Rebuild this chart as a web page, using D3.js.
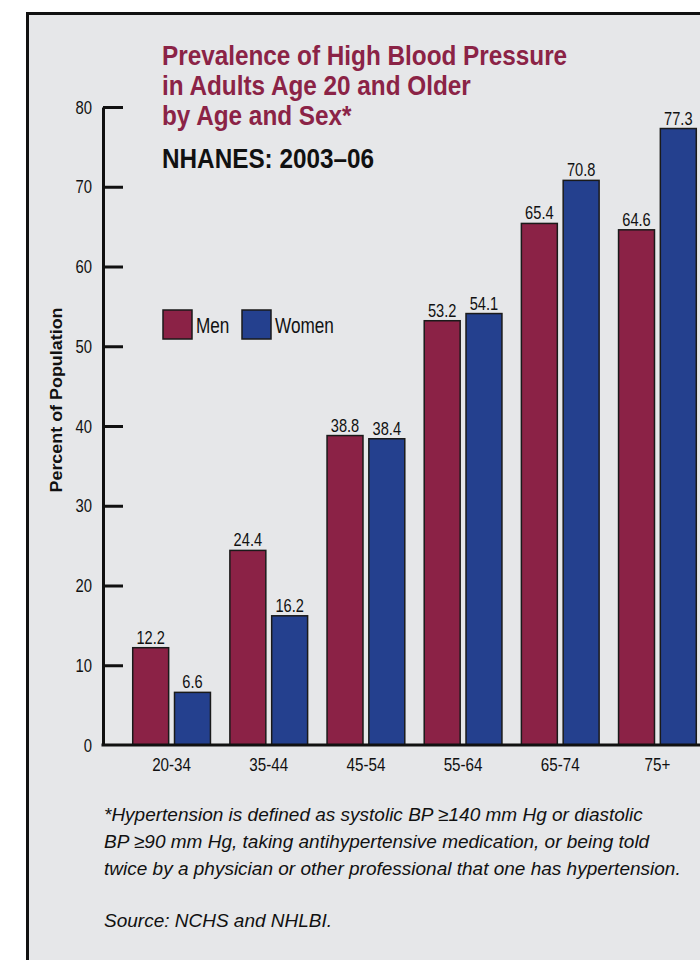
<!DOCTYPE html>
<html>
<head>
<meta charset="utf-8">
<script src="https://cdn.jsdelivr.net/npm/d3@7"></script>
<style>
  body { margin: 0; background: #fff; }
  svg { display: block; }
  text { font-family: "Liberation Sans", Arial, Helvetica, sans-serif; }
</style>
</head>
<body>
<script>
// data
const ageGroups = ["20-34", "35-44", "45-54", "55-64", "65-74", "75+"];
const sexes = ["Men", "Women"];
const men = [12.2, 24.4, 38.8, 53.2, 65.4, 64.6];
const women = [6.6, 16.2, 38.4, 54.1, 70.8, 77.3];
const yTicks = [0, 10, 20, 30, 40, 50, 60, 70, 80];
const titleLines = ["Prevalence of High Blood Pressure", "in Adults Age 20 and Older", "by Age and Sex*"];
const subtitle = "NHANES: 2003\u201306";
const yLabel = "Percent of Population";
const footnote = [
    "*Hypertension is defined as systolic BP \u2265140 mm Hg or diastolic",
    "BP \u226590 mm Hg, taking antihypertensive medication, or being told",
    "twice by a physician or other professional that one has hypertension."
];
const source = "Source: NCHS and NHLBI.";

const rows = ageGroups.map((age, i) => ({ age, Men: men[i], Women: women[i] }));

const width = 700, height = 960;
const axisX = 103, baseY = 745;

// no condensed face installed, so squash the regular one horizontally
function condense(sel, k = 0.8) {
    sel.each(function () {
        const w = this.getComputedTextLength();
        d3.select(this)
            .attr("textLength", w * k)
            .attr("lengthAdjust", "spacingAndGlyphs");
    });
}

const svg = d3.select("body")
    .append("svg")
    .attr("width", width)
    .attr("height", height);

// grey panel with the black frame (runs off the right and bottom)
svg.append("rect")
    .attr("x", 27.5)
    .attr("y", 13.5)
    .attr("width", 720)
    .attr("height", 980)
    .attr("fill", "#e6e7e9")
    .attr("stroke", "#111")
    .attr("stroke-width", 3);

const color = d3.scaleOrdinal()
    .domain(sexes)
    .range(["#8b2246", "#24408e"]);

const x = d3.scaleBand()
    .domain(ageGroups)
    .range([123, 706])
    .paddingInner(0.2)
    .paddingOuter(0.1);
const xSex = d3.scaleBand()
    .domain(sexes)
    .range([0, x.bandwidth()])
    .paddingInner(0.14);
const y = d3.scaleLinear()
    .domain([0, 80])
    .range([baseY, 107]);

// bars
const groups = svg.append("g")
    .selectAll("g")
    .data(rows)
    .join("g")
        .attr("transform", d => `translate(${x(d.age)},0)`);

groups.selectAll("rect")
    .data(d => sexes.map(s => ({ key: s, value: d[s] })))
    .join("rect")
        .attr("x", d => xSex(d.key))
        .attr("y", d => y(d.value))
        .attr("width", xSex.bandwidth())
        .attr("height", d => y(0) - y(d.value))
        .attr("fill", d => color(d.key))
        .attr("stroke", "#1a1a1a")
        .attr("stroke-width", 1.5);

groups.selectAll("text")
    .data(d => sexes.map(s => ({ key: s, value: d[s] })))
    .join("text")
        .attr("x", d => xSex(d.key) + xSex.bandwidth() / 2)
        .attr("y", d => y(d.value) - 4)
        .attr("text-anchor", "middle")
        .attr("font-size", 19)
        .attr("fill", "#111")
        .text(d => d.value.toFixed(1))
        .call(condense, 0.77);

// y axis
svg.append("g")
    .attr("transform", `translate(${axisX},0)`)
    .call(d3.axisLeft(y).tickValues(yTicks).tickSize(-20).tickSizeOuter(0).tickPadding(11))
    .attr("font-family", null)
    .call(g => g.select(".domain").attr("stroke", "#111").attr("stroke-width", 3))
    .call(g => g.selectAll(".tick line").attr("stroke", "#111").attr("stroke-width", 3))
    .call(g => g.selectAll(".tick").filter(d => d === 0).select("line").remove())
    .call(g => g.selectAll(".tick text")
        .attr("font-size", 19)
        .attr("fill", "#111")
        .call(condense, 0.78));

// x axis
svg.append("g")
    .attr("transform", `translate(0,${baseY})`)
    .call(d3.axisBottom(x).tickSize(0).tickPadding(13))
    .attr("font-family", null)
    .call(g => g.select(".domain").remove())
    .call(g => g.append("line")
        .attr("x1", axisX - 1.5)
        .attr("x2", width)
        .attr("stroke", "#111")
        .attr("stroke-width", 3))
    .call(g => g.selectAll(".tick text")
        .attr("font-size", 19)
        .attr("fill", "#111")
        .call(condense, 0.8));

// y axis title
svg.append("text")
    .attr("transform", "translate(62,400) rotate(-90)")
    .attr("text-anchor", "middle")
    .attr("font-weight", "bold")
    .attr("font-size", 16)
    .attr("textLength", 185)
    .attr("lengthAdjust", "spacingAndGlyphs")
    .attr("fill", "#111")
    .text(yLabel);

// title
svg.append("text")
    .attr("font-size", 27)
    .attr("font-weight", "bold")
    .attr("fill", "#8b2346")
    .selectAll("tspan")
    .data(titleLines)
    .join("tspan")
        .attr("x", 162)
        .attr("y", (d, i) => 65 + i * 30)
        .text(d => d)
        .call(condense, 0.9);

svg.append("text")
    .attr("x", 162)
    .attr("y", 168)
    .attr("font-size", 27)
    .attr("font-weight", "bold")
    .attr("fill", "#111")
    .text(subtitle)
    .call(condense, 0.9);

// legend
const legend = svg.append("g")
    .selectAll("g")
    .data(sexes)
    .join("g")
        .attr("transform", (d, i) => `translate(${163 + i * 79},310)`);
legend.append("rect")
    .attr("width", 29)
    .attr("height", 29)
    .attr("fill", d => color(d))
    .attr("stroke", "#1a1a1a")
    .attr("stroke-width", 1.5);
legend.append("text")
    .attr("x", 33)
    .attr("y", 23)
    .attr("font-size", 22)
    .attr("fill", "#111")
    .text(d => d)
    .call(condense, 0.78);

// footnote and source
svg.append("text")
    .attr("font-size", 19)
    .attr("font-style", "italic")
    .attr("fill", "#111")
    .selectAll("tspan")
    .data(footnote)
    .join("tspan")
        .attr("x", 104)
        .attr("y", (d, i) => 821 + i * 27)
        .text(d => d);

svg.append("text")
    .attr("x", 104)
    .attr("y", 927)
    .attr("font-size", 19)
    .attr("font-style", "italic")
    .attr("fill", "#111")
    .text(source);
</script>
</body>
</html>
